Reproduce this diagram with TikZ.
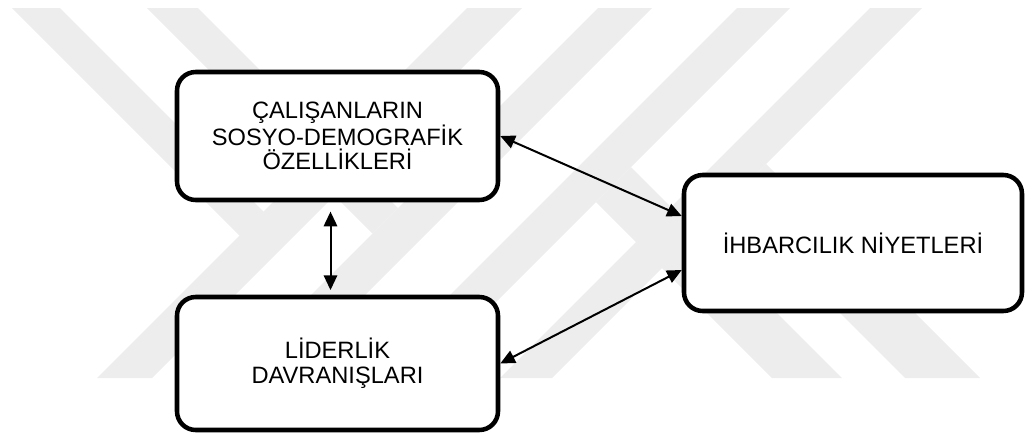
\documentclass[tikz,border=0pt]{standalone}
\usepackage{fontspec}
\setmainfont{Liberation Sans}
\usetikzlibrary{arrows.meta,calc}
\begin{document}
\begin{tikzpicture}[x=0.75pt,y=-0.75pt,
  wm/.style={fill=black!7,draw=none},
  box/.style={draw=black,line width=3.4pt,rounded corners=14pt,fill=white,align=center,
    font=\fontsize{17.75pt}{18.5pt}\selectfont,inner sep=0pt},
  biarrow/.style={{Triangle[length=11pt,width=10pt]}-{Triangle[length=11pt,width=10pt]},line width=1.5pt}]
\useasboundingbox (0,0) rectangle (1025,437);
% watermark (faint background)
\fill[wm] (12,8) -- (60,8) -- (264,212) -- (240,236) -- cycle;
\fill[wm] (467,8) -- (522,8) -- (152,378) -- (97,378) -- cycle;
\fill[wm] (147,8) -- (198,8) -- (398,208) -- (372.5,233.5) -- cycle;
\fill[wm] (598,8) -- (652,8) -- (282,378) -- (228,378) -- cycle;
\fill[wm] (737,8) -- (790,8) -- (420,378) -- (367,378) -- cycle;
\fill[wm] (631,167) -- (842,378) -- (772,378) -- (596,202) -- cycle;
\fill[wm] (870,8) -- (922,8) -- (552,378) -- (500,378) -- cycle;
\fill[wm] (766,164) -- (980,378) -- (905,378) -- (728.5,201.5) -- cycle;
% boxes
\node[box,minimum width=240.75pt,minimum height=96pt] (A) at (337.5,136)
  {ÇALIŞANLARIN\\SOSYO-DEMOGRAFİK\\ÖZELLİKLERİ};
\node[box,minimum width=240.75pt,minimum height=99.75pt] (B) at (337.5,363.5)
  {LİDERLİK\\DAVRANIŞLARI};
\node[box,minimum width=253.5pt,minimum height=102pt] (C) at (853,243)
  {İHBARCILIK NİYETLERİ};
% connectors
\draw[biarrow,shorten <=7pt,shorten >=3.5pt] ($(A.south)+(-7,0)$) -- ($(B.north)+(-7,0)$);
\draw[biarrow] (A.east) -- ($(C.west)+(0,-27)$);
\draw[biarrow] ($(C.west)+(0,27)$) -- (B.east);
\end{tikzpicture}
\end{document}
